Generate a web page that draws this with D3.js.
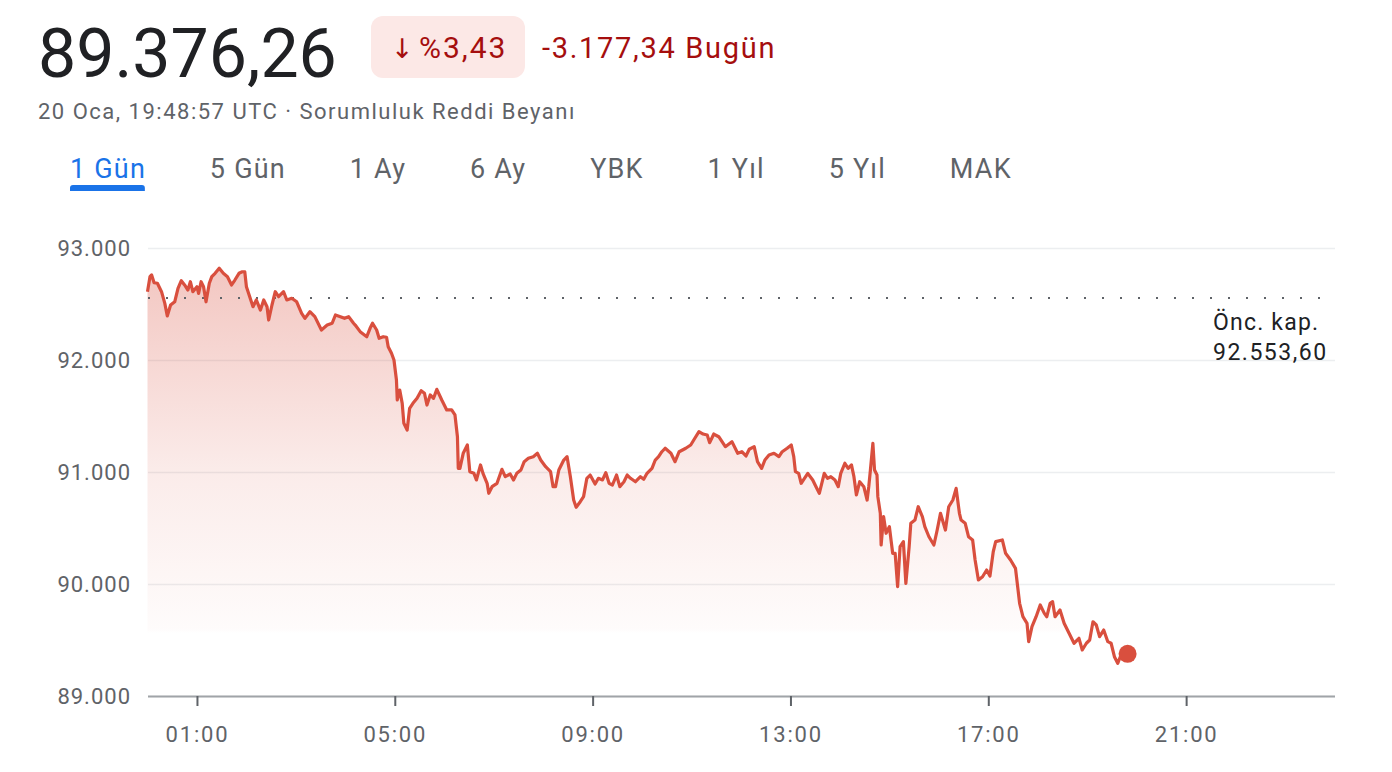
<!DOCTYPE html>
<html>
<head>
<meta charset="utf-8">
<script src="https://cdn.jsdelivr.net/npm/d3@7"></script>
<style>
  body { margin: 0; background: #fff; }
  text { font-family: Roboto, "Noto Sans", sans-serif; }
</style>
</head>
<body>
<svg id="chart" width="1392" height="772"></svg>
<script>
// minutes since 00:00 UTC and index level
var minutes = [0,3,5,8,12,17,21,24,28,33,37,41,45,49,52,55,60,62,65,68,71,75,78,82,87,92,97,102,106,111,115,118,120,124,128,132,137,141,145,147,151,155,159,165,169,175,181,187,191,197,203,211,218,224,228,234,239,244,250,
  252,258,266,270,273,278,281,286,290,292,296,299,302,303,306,309,311,315,318,322,327,332,336,339,343,347,351,357,363,369,373,376,377,379,383,388,391,396,399,404,407,412,414,418,424,430,434,440,444,448,453,457,462,468,473,477,483,489,492,495,
  499,505,509,513,517,520,525,529,533,537,543,547,552,556,560,564,569,573,578,582,586,592,598,602,606,612,616,620,624,628,635,640,645,653,659,664,669,674,679,682,687,693,701,709,716,721,726,730,736,740,745,
  749,754,760,766,770,776,781,784,786,790,793,801,807,811,815,821,825,829,834,838,841,846,850,854,857,860,864,869,873,875,877,880,882,885,886,889,890,893,896,900,904,907,910,913,917,920,924,926,931,935,940,943,948,954,958,962,968,972,977,981,985,
  987,992,996,1001,1004,1008,1013,1018,1022,1026,1029,1037,1041,1047,1053,1058,1062,1067,1069,1073,1078,1083,1088,1091,1095,1098,1101,1107,1112,1118,1124,1130,1134,1139,1143,1147,1151,1155,1160,1165,1169,1173,1177,1181,1187,1189];

var values = [92610,92744,92759,92690,92685,92610,92506,92393,92491,92520,92640,92708,92670,92625,92699,92610,92655,92595,92699,92655,92520,92685,92744,92774,92819,92774,92744,92670,92714,92774,92788,92788,92655,92565,92476,92536,92446,92536,92476,92357,92491,92610,92565,92610,92536,92551,92520,92417,92372,92431,92387,92268,92312,92328,92402,92387,92372,92387,92328,
  92312,92253,92208,92283,92328,92268,92194,92208,92203,92119,92060,92000,91821,91643,91732,91613,91435,91375,91569,91613,91658,91726,91703,91598,91688,91658,91738,91643,91554,91554,91509,91315,91033,91033,91167,91241,91003,90988,90929,91063,90988,90899,90810,90869,90899,91024,90958,90982,90929,90988,91018,91092,91122,91137,91167,91107,91047,91003,90869,90869,
  91018,91107,91137,90958,90750,90685,90735,90780,90944,90973,90893,90944,90929,90994,90899,90884,90973,90869,90913,90973,90944,90913,90958,90935,90988,91033,91107,91137,91181,91212,91167,91092,91181,91212,91241,91301,91360,91339,91330,91262,91339,91315,91226,91271,91167,91181,91143,91203,91226,91092,91033,
  91107,91152,91167,91137,91181,91212,91241,91137,91003,90988,90899,90988,90929,90869,90810,90988,90944,90958,90929,90869,90988,91078,91033,91063,90958,90795,90913,90869,90750,90869,91018,91256,91018,90973,90780,90631,90348,90601,90453,90512,90274,90274,89976,90333,90378,90006,90333,90542,90571,90690,90601,90512,90422,90348,90482,90631,90482,90690,90750,90854,90631,
  90571,90542,90422,90393,90214,90036,90065,90125,90071,90288,90378,90393,90274,90214,90140,89828,89708,89649,89485,89619,89708,89813,89738,89708,89828,89842,89708,89768,89649,89560,89471,89515,89411,89471,89500,89663,89634,89530,89589,89485,89471,89351,89292,89366,89381,89376.26];

var yTicks = [89000, 90000, 91000, 92000, 93000];
var xTicks = [60, 300, 540, 780, 1020, 1260];
var xTickLabels = ["01:00", "05:00", "09:00", "13:00", "17:00", "21:00"];
var tabs = ["1 Gün", "5 Gün", "1 Ay", "6 Ay", "YBK", "1 Yıl", "5 Yıl", "MAK"];

var lastPrice = 89376.26;
var change = -3177.34;
var changePct = -3.43;
var prevClose = 92553.60;
var stamp = "20 Oca, 19:48:57 UTC · Sorumluluk Reddi Beyanı";

var tr = d3.formatLocale({ decimal: ",", thousands: ".", grouping: [3], currency: ["", ""], minus: "-" });
var fmt0 = tr.format(",.0f"),
    fmt2 = tr.format(",.2f");

var red = "#d94f3e",
    darkRed = "#a50e0e",
    grey = "#5f6368";

var svg = d3.select("#chart");

// header
svg.append("text")
    .attr("x", 38).attr("y", 77)
    .attr("font-size", 68).attr("fill", "#202124")
    .text(fmt2(lastPrice));

var badge = svg.append("g");
badge.append("rect")
    .attr("x", 371).attr("y", 16).attr("width", 154).attr("height", 62).attr("rx", 12)
    .attr("fill", "#fce8e6");
badge.append("text")
    .attr("x", 391).attr("y", 58)
    .attr("font-size", 27).style("font-family", "'DejaVu Sans', sans-serif").attr("fill", darkRed)
    .text("↓");
badge.append("text")
    .attr("x", 419).attr("y", 58)
    .attr("font-size", 30).attr("letter-spacing", 2).attr("fill", darkRed)
    .text("%" + fmt2(Math.abs(changePct)));

svg.append("text")
    .attr("x", 542).attr("y", 58)
    .attr("font-size", 29).attr("letter-spacing", 1.7).attr("fill", darkRed)
    .text(fmt2(change) + " Bugün");

svg.append("text")
    .attr("x", 38).attr("y", 119)
    .attr("font-size", 22).attr("letter-spacing", 1.5).attr("fill", grey)
    .text(stamp);

// range tabs
var tx = 70;
tabs.forEach(function (t, i) {
    var el = svg.append("text")
        .attr("x", tx).attr("y", 178)
        .attr("font-size", 27).attr("letter-spacing", 1.2)
        .attr("fill", i === 0 ? "#1a73e8" : grey)
        .text(t);
    var w = el.node().getComputedTextLength() - 1.2;
    if (i === 0) {
        svg.append("path")
            .attr("d", "M" + tx + ",191 v-3 a3,3 0 0 1 3,-3 h" + (w - 6) + " a3,3 0 0 1 3,3 v3 z")
            .attr("fill", "#1a73e8");
    }
    tx += w + 65;
});

// chart
var x = d3.scaleLinear().domain([0, 1440]).range([147.5, 1334.5]);
var y = d3.scaleLinear().domain([89000, 93000]).range([696, 248]);

var data = minutes.map(function (m, i) { return { t: m, v: values[i] }; });

var defs = svg.append("defs");
var grad = defs.append("linearGradient")
    .attr("id", "fill")
    .attr("gradientUnits", "userSpaceOnUse")
    .attr("x1", 0).attr("x2", 0)
    .attr("y1", y(93000)).attr("y2", y(89000));
grad.append("stop").attr("offset", 0).attr("stop-color", red).attr("stop-opacity", 0.34);
grad.append("stop").attr("offset", 0.5).attr("stop-color", red).attr("stop-opacity", 0.11);
grad.append("stop").attr("offset", 0.85).attr("stop-color", red).attr("stop-opacity", 0.02);
grad.append("stop").attr("offset", 0.86).attr("stop-color", red).attr("stop-opacity", 0);

// y grid + labels
var yAxis = svg.append("g")
    .attr("transform", "translate(148,0)")
    .call(d3.axisLeft(y).tickValues(yTicks).tickFormat(fmt0).tickSize(-(1335 - 148)).tickPadding(17));
yAxis.select(".domain").remove();
yAxis.selectAll(".tick line").attr("stroke", "#eceef0").attr("stroke-width", 1.5);
yAxis.selectAll(".tick text")
    .attr("font-size", 22).attr("letter-spacing", 1).attr("fill", grey)
    .attr("font-family", "Roboto, sans-serif");

svg.append("path")
    .datum(data)
    .attr("fill", "url(#fill)")
    .attr("d", d3.area().x(function (d) { return x(d.t); }).y0(y(89000)).y1(function (d) { return y(d.v); }));

// previous close
svg.append("line")
    .attr("x1", 148).attr("x2", 1320)
    .attr("y1", y(prevClose)).attr("y2", y(prevClose))
    .attr("stroke", grey).attr("stroke-width", 2)
    .attr("stroke-dasharray", "2,16");

svg.append("text")
    .attr("x", 1213).attr("y", 330)
    .attr("font-size", 23).attr("letter-spacing", 1.2).attr("fill", "#202124")
    .text("Önc. kap.");
svg.append("text")
    .attr("x", 1213).attr("y", 360)
    .attr("font-size", 23).attr("letter-spacing", 1.5).attr("fill", "#202124")
    .text(fmt2(prevClose));

svg.append("path")
    .datum(data)
    .attr("fill", "none")
    .attr("stroke", red)
    .attr("stroke-width", 3.2)
    .attr("stroke-linejoin", "round")
    .attr("d", d3.line().x(function (d) { return x(d.t); }).y(function (d) { return y(d.v); }));

var last = data[data.length - 1];
svg.append("circle")
    .attr("cx", x(last.t)).attr("cy", y(last.v)).attr("r", 9)
    .attr("fill", red);

// x axis
var xAxis = svg.append("g")
    .attr("transform", "translate(0," + y(89000) + ")")
    .call(d3.axisBottom(x).tickValues(xTicks)
        .tickFormat(function (d, i) { return xTickLabels[i]; })
        .tickSize(10).tickSizeOuter(0).tickPadding(20));
xAxis.select(".domain").attr("stroke", "#a0a4a8").attr("stroke-width", 2);
xAxis.selectAll(".tick line").attr("stroke", grey).attr("stroke-width", 2);
xAxis.selectAll(".tick text")
    .attr("font-size", 22).attr("letter-spacing", 1.8).attr("fill", grey)
    .attr("font-family", "Roboto, sans-serif");
</script>
</body>
</html>
